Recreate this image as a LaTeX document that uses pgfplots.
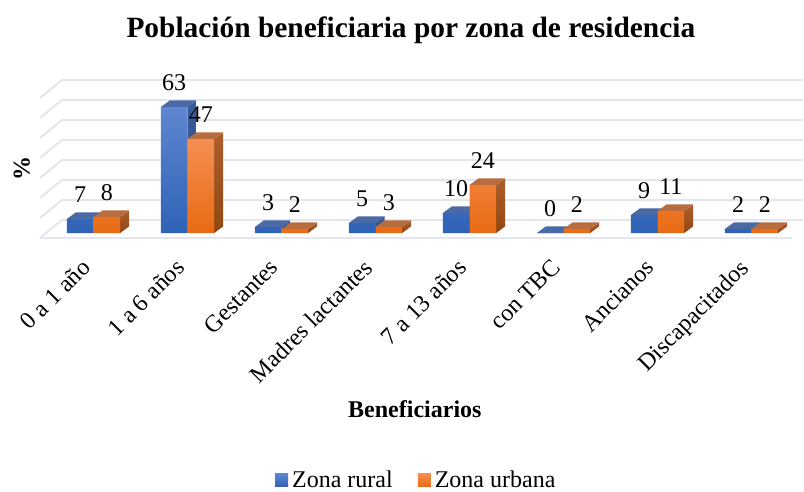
\documentclass[border=0pt]{standalone}
\usepackage{pgfplots}
\pgfplotsset{compat=1.18}
\usepackage{fontspec}
\setmainfont{Liberation Serif}
\definecolor{gridc}{HTML}{E3E6EC}
\definecolor{bluetop}{HTML}{4A6AA5}
\definecolor{orangetop}{HTML}{B96C3E}
\definecolor{blueF}{HTML}{5F86D0}
\definecolor{blueB}{HTML}{2F62B6}
\definecolor{orangeF}{HTML}{F58F52}
\definecolor{orangeB}{HTML}{E86B14}
\definecolor{blueS}{HTML}{3B5C9C}
\definecolor{blueSb}{HTML}{24487F}
\definecolor{orangeS}{HTML}{AC5E2E}
\definecolor{orangeSb}{HTML}{924710}
\newcommand{\dx}{0.0957}
\newcommand{\dy}{3.3}
\newcommand{\bw}{0.2837}
% #1 left edge of the bar, #2 value, #3 top colour, #4 side colour top, #5 side colour bottom
\newcommand{\depth}[5]{%
  \addplot[forget plot,draw=none,top color=#4,bottom color=#5] coordinates {(#1+\bw,0) (#1+\bw,#2) (#1+\bw+\dx,#2+\dy) (#1+\bw+\dx,\dy)} --cycle;
  \addplot[forget plot,draw=none,fill=#3] coordinates {(#1,#2) (#1+\bw,#2) (#1+\bw+\dx,#2+\dy) (#1+\dx,#2+\dy)} --cycle;
}
\begin{document}
\begin{tikzpicture}
\useasboundingbox (0,-253pt) rectangle (804pt,238pt);
\begin{axis}[
  at={(0,0)},anchor=south west,
  width=804pt,height=178pt,scale only axis,
  xmin=-0.9947,xmax=7.5585,ymin=-2.5,ymax=86.5,
  clip=false,
  axis line style={draw=none},
  major tick length=0pt,
  ytick=\empty,
  xtick={0,1,2,3,4,5,6,7},
  xticklabels={0 a 1 año,1 a 6 años,Gestantes,Madres lactantes,7 a 13 años,con TBC,Ancianos,Discapacitados},
  x tick label style={rotate=45,anchor=north east,font=\fontsize{24}{24}\selectfont,inner sep=0pt,yshift=-4.4pt,xshift=-23.2pt},
  /pgf/number format/assume math mode=true,
  nodes near coords style={anchor=center,yshift=24pt,font=\fontsize{24}{24}\selectfont,text=black,inner sep=0pt},
  title={Población beneficiaria por zona de residencia},
  title style={at={(axis description cs:0.511,1.134)},anchor=center,font=\fontsize{29.4}{30}\selectfont\bfseries},
  xlabel={Beneficiarios},
  xlabel style={at={(axis description cs:0.516,-0.96)},anchor=center,font=\fontsize{24}{24}\selectfont\bfseries},
  ylabel={\%},
  ylabel style={at={(axis description cs:0.027,0.39)},anchor=center,rotate=0,font=\fontsize{24}{24}\selectfont\bfseries},
  legend style={at={(axis description cs:0.342,-1.361)},anchor=west,draw=none,fill=none,legend columns=2,
    font=\fontsize{24}{24}\selectfont,inner sep=0pt,
    /tikz/every odd column/.append style={column sep=2pt},
    /tikz/every even column/.append style={column sep=23pt}},
]
% back wall and floor
\addplot[forget plot,gridc,line width=2pt] coordinates {(-0.569,67.5) (-0.335,76.5) (7.548,76.5)};
\addplot[forget plot,gridc,line width=2pt] coordinates {(-0.569,57.5) (-0.335,66.5) (7.548,66.5)};
\addplot[forget plot,gridc,line width=2pt] coordinates {(-0.569,47.5) (-0.335,56.5) (7.548,56.5)};
\addplot[forget plot,gridc,line width=2pt] coordinates {(-0.569,37.5) (-0.335,46.5) (7.548,46.5)};
\addplot[forget plot,gridc,line width=2pt] coordinates {(-0.569,27.5) (-0.335,36.5) (7.548,36.5)};
\addplot[forget plot,gridc,line width=2pt] coordinates {(-0.569,17.5) (-0.335,26.5) (7.548,26.5)};
\addplot[forget plot,gridc,line width=2pt] coordinates {(-0.569,7.5) (-0.335,16.5) (7.548,16.5)};
\addplot[forget plot,gridc,line width=2pt] coordinates {(-0.569,-2.5) (-0.335,6.5) (7.548,6.5)};
\addplot[forget plot,gridc,line width=2pt] coordinates {(-0.569,-2.5) (7.431,-2.5)};
% rural: depth
\depth{0-\bw}{7}{bluetop}{blueS}{blueSb}
\depth{1-\bw}{63}{bluetop}{blueS}{blueSb}
\depth{2-\bw}{3}{bluetop}{blueS}{blueSb}
\depth{3-\bw}{5}{bluetop}{blueS}{blueSb}
\depth{4-\bw}{10}{bluetop}{blueS}{blueSb}
\depth{5-\bw}{0}{bluetop}{blueS}{blueSb}
\depth{6-\bw}{9}{bluetop}{blueS}{blueSb}
\depth{7-\bw}{2}{bluetop}{blueS}{blueSb}
\addplot[ybar,bar width=0.2837,bar shift=-0.14185,draw=none,top color=blueF,bottom color=blueB,
  nodes near coords,every node near coord/.append style={xshift=-13.3pt},
  legend image code/.code={\path[top color=blueF,bottom color=blueB,draw=none] (0,-6.5pt) rectangle (13pt,6.5pt);}]
  coordinates {(0,7) (1,63) (2,3) (3,5) (4,10) (5,0) (6,9) (7,2)};
\addlegendentry{Zona rural}
% urbana: depth
\depth{0}{8}{orangetop}{orangeS}{orangeSb}
\depth{1}{47}{orangetop}{orangeS}{orangeSb}
\depth{2}{2}{orangetop}{orangeS}{orangeSb}
\depth{3}{3}{orangetop}{orangeS}{orangeSb}
\depth{4}{24}{orangetop}{orangeS}{orangeSb}
\depth{5}{2}{orangetop}{orangeS}{orangeSb}
\depth{6}{11}{orangetop}{orangeS}{orangeSb}
\depth{7}{2}{orangetop}{orangeS}{orangeSb}
\addplot[ybar,bar width=0.2837,bar shift=0.14185,draw=none,top color=orangeF,bottom color=orangeB,
  nodes near coords,every node near coord/.append style={xshift=13.3pt},
  legend image code/.code={\path[top color=orangeF,bottom color=orangeB,draw=none] (0,-6.5pt) rectangle (13pt,6.5pt);}]
  coordinates {(0,8) (1,47) (2,2) (3,3) (4,24) (5,2) (6,11) (7,2)};
\addlegendentry{Zona urbana}
\end{axis}
\end{tikzpicture}
\end{document}
